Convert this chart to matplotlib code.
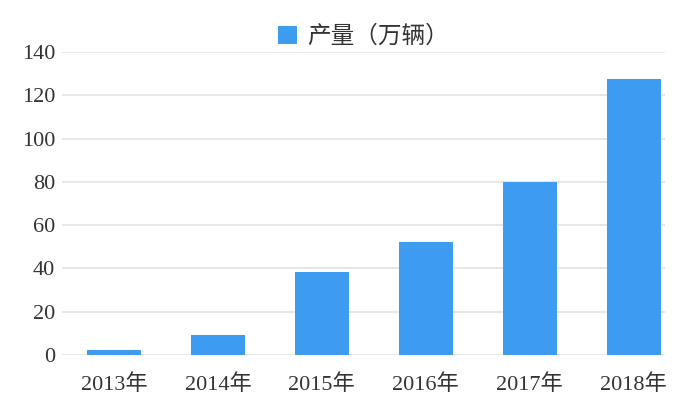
import matplotlib
matplotlib.use('Agg')
import matplotlib.pyplot as plt

# 数据
years = ['2013年', '2014年', '2015年', '2016年', '2017年', '2018年']
output = [2.4, 9.1, 38.4, 52.4, 80.0, 127.7]
series_name = '产量（万辆）'
y_ticks = [0, 20, 40, 60, 80, 100, 120, 140]

plt.rcParams['font.family'] = ['Liberation Serif', 'Noto Sans CJK SC', 'DejaVu Sans']

fig = plt.figure(figsize=(6.89, 4.08), dpi=100)
ax = fig.add_axes([0.09, 0.13, 0.875, 0.7425])

x = list(range(len(years)))
ax.bar(x, output, width=0.52, color='#3d9cf0', label=series_name, zorder=3)

ax.set_xlim(-0.5, 5.3)
ax.set_ylim(0, 140)
ax.set_yticks(y_ticks)
ax.set_xticks(x)
ax.set_xticklabels(years)
ax.grid(axis='y', color='#e3e3e3', linewidth=1.2, zorder=0)
for s in ax.spines.values():
    s.set_visible(False)
ax.tick_params(axis='both', length=0, labelsize=16, labelcolor='#333333')
ax.tick_params(axis='x', pad=14)
ax.tick_params(axis='y', pad=5)

ax.legend(loc='center', bbox_to_anchor=(0.5, 1.05), frameon=False,
          fontsize=17, handlelength=0.8, handleheight=0.8, handletextpad=0.4,
          labelcolor='#333333')

fig.savefig('out.png', dpi=100)
